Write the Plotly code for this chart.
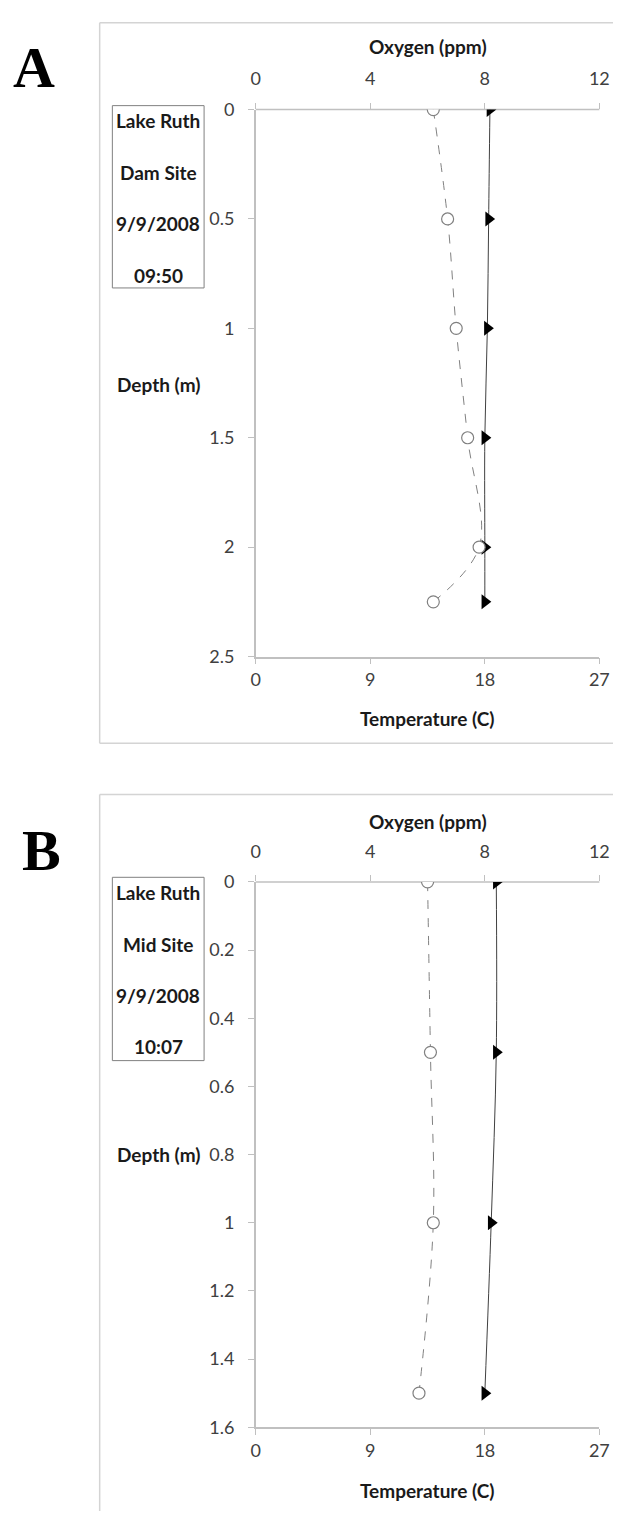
import plotly.graph_objects as go

W, H = 623, 1521

# ---- Data ----
depth_A = [0, 0.5, 1, 1.5, 2, 2.25]
oxygen_A = [6.2, 6.7, 7.0, 7.4, 7.8, 6.2]
temp_A = [18.4, 18.3, 18.2, 18.0, 18.0, 18.0]

depth_B = [0, 0.5, 1, 1.5]
oxygen_B = [6.0, 6.1, 6.2, 5.7]
temp_B = [18.9, 18.9, 18.5, 18.0]

temp_ticks = [0, 9, 18, 27]
oxy_ticks = [0, 4, 8, 12]
depth_ticks_A = [0, 0.5, 1, 1.5, 2, 2.5]
depth_ticks_B = [0, 0.2, 0.4, 0.6, 0.8, 1.0, 1.2, 1.4, 1.6]
depth_text_B = ["0", "0.2", "0.4", "0.6", "0.8", "1", "1.2", "1.4", "1.6"]

info_A = ["Lake Ruth", "Dam Site", "9/9/2008", "09:50"]
info_B = ["Lake Ruth", "Mid Site", "9/9/2008", "10:07"]


def px(x):
    return x / W


def py(y):
    return 1 - y / H


FONT = "Lato"
AXC = "#c0c0c0"
TXT = "#404040"

fig = go.Figure()

oxy_style = dict(mode="lines+markers", line=dict(color="#808080", width=1, dash="dash", shape="spline"),
                 marker=dict(symbol="circle", size=12, color="white", line=dict(color="#808080", width=1.2)),
                 showlegend=False)
temp_style = dict(mode="lines+markers", line=dict(color="#404040", width=1, shape="spline"),
                  marker=dict(symbol="triangle-right", size=13, color="black"),
                  showlegend=False)

fig.add_trace(go.Scatter(x=oxygen_A, y=depth_A, xaxis="x2", yaxis="y", name="Oxygen", **oxy_style))
fig.add_trace(go.Scatter(x=temp_A, y=depth_A, xaxis="x", yaxis="y", name="Temperature", **temp_style))
fig.add_trace(go.Scatter(x=oxygen_B, y=depth_B, xaxis="x4", yaxis="y2", name="Oxygen", **oxy_style))
fig.add_trace(go.Scatter(x=temp_B, y=depth_B, xaxis="x3", yaxis="y2", name="Temperature", **temp_style))

xdom = [px(257), px(609)]
ydomA = [py(654), py(99)]
ydomB = [py(1436), py(882.7)]

common = dict(ticks="outside", tickcolor=AXC, ticklen=6, linecolor=AXC, linewidth=1.5,
              tickwidth=1, showgrid=False, zeroline=False, mirror=False,
              tickfont=dict(family=FONT, size=18, color=TXT))

# width/height come from the page div (623x1521), which is shifted over the body's default margin
layout = dict(
    autosize=True, margin=dict(l=0, r=0, t=0, b=0),
    paper_bgcolor="white", plot_bgcolor="white",
    xaxis=dict(domain=xdom, range=[0, 27], tickvals=temp_ticks, anchor="y", side="bottom",
               showline=True, ticklabelstandoff=0, **common),
    xaxis2=dict(domain=xdom, range=[0, 12], tickvals=oxy_ticks, anchor="y", side="top", overlaying="x",
                showline=False, ticklabelstandoff=10, **common),
    yaxis=dict(domain=ydomA, range=[2.5, 0], tickvals=depth_ticks_A, anchor="x",
               showline=True, ticklabelstandoff=10, **common),
    xaxis3=dict(domain=xdom, range=[0, 27], tickvals=temp_ticks, anchor="y2", side="bottom",
                showline=True, ticklabelstandoff=0, **common),
    xaxis4=dict(domain=xdom, range=[0, 12], tickvals=oxy_ticks, anchor="y2", side="top", overlaying="x3",
                showline=False, ticklabelstandoff=10, **common),
    yaxis2=dict(domain=ydomB, range=[1.6, 0], tickvals=depth_ticks_B, ticktext=depth_text_B, anchor="x3",
                showline=True, ticklabelstandoff=10, **common),
)
fig.update_layout(**layout)

shapes = []
ann = []


def hline(x0, x1, y, color, width):
    shapes.append(dict(type="line", xref="paper", yref="paper", x0=px(x0), x1=px(x1), y0=py(y), y1=py(y),
                       line=dict(color=color, width=width), layer="below"))


def vline(x, y0, y1, color, width):
    shapes.append(dict(type="line", xref="paper", yref="paper", x0=px(x), x1=px(x), y0=py(y0), y1=py(y1),
                       line=dict(color=color, width=width), layer="below"))


# top (oxygen) axis lines
hline(257, 609, 99, AXC, 1.5)
hline(257, 609, 882.7, AXC, 1.5)

# outer chart-area borders (right and lower parts are cut off by the picture edge)
BC = "#d4d4d4"
hline(97, 623, 11, BC, 1.5)
hline(97, 623, 742, BC, 1.5)
vline(97, 11, 742, BC, 1.5)
hline(97, 623, 794, BC, 1.5)
vline(97, 794, 1521, BC, 1.5)

# info boxes
shapes.append(dict(type="rect", xref="paper", yref="paper", x0=px(110), x1=px(204), y0=py(280), y1=py(95),
                   line=dict(color="#808080", width=1)))
shapes.append(dict(type="rect", xref="paper", yref="paper", x0=px(110), x1=px(204), y0=py(1064), y1=py(878),
                   line=dict(color="#808080", width=1)))

bold = dict(family=FONT, size=19, color="#1a1a1a")

for txt, y in zip(info_A, [110, 163, 215, 267]):
    ann.append(dict(text="<b>%s</b>" % txt, x=px(157), y=py(y), xref="paper", yref="paper",
                    showarrow=False, font=bold, xanchor="center", yanchor="middle"))
for txt, y in zip(info_B, [893, 946, 998, 1050]):
    ann.append(dict(text="<b>%s</b>" % txt, x=px(157), y=py(y), xref="paper", yref="paper",
                    showarrow=False, font=bold, xanchor="center", yanchor="middle"))

# axis titles
for y in [35, 821.7]:
    ann.append(dict(text="<b>Oxygen (ppm)</b>", x=px(433), y=py(y), xref="paper", yref="paper",
                    showarrow=False, font=bold, xanchor="center", yanchor="middle"))
for y in [716.7, 1500]:
    ann.append(dict(text="<b>Temperature (C)</b>", x=px(433), y=py(y), xref="paper", yref="paper",
                    showarrow=False, font=bold, xanchor="center", yanchor="middle"))
for y in [378, 1159]:
    ann.append(dict(text="<b>Depth (m)</b>", x=px(157), y=py(y), xref="paper", yref="paper",
                    showarrow=False, font=bold, xanchor="center", yanchor="middle"))

# panel letters
for txt, x, y in [("A", 30, 56), ("B", 37, 851)]:
    ann.append(dict(text="<b>%s</b>" % txt, x=px(x), y=py(y), xref="paper", yref="paper",
                    showarrow=False, font=dict(family="Liberation Serif", size=58, color="black"),
                    xanchor="center", yanchor="middle"))

fig.update_layout(shapes=shapes, annotations=ann)
fig.write_html("out.html", config={"displayModeBar": False},
               default_width="623px",
               default_height="1521px; margin:-8px")
